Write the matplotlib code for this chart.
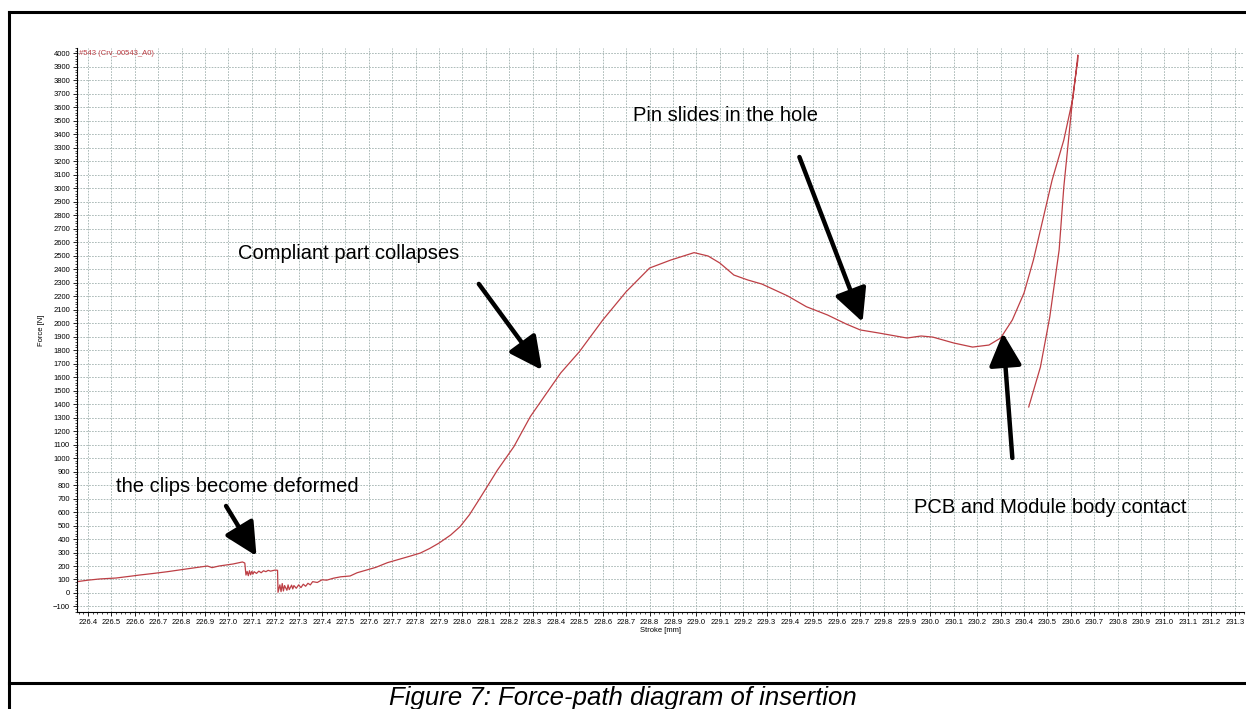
import numpy as np
import matplotlib
matplotlib.use('Agg')
import matplotlib.pyplot as plt
from matplotlib.lines import Line2D
from matplotlib.ticker import MultipleLocator, FormatStrFormatter

plt.rcParams['font.family'] = ['Liberation Sans', 'DejaVu Sans']

# stroke [mm] / force [N] (loading then unloading)
stroke = [226.353, 226.40, 226.45, 226.52, 226.58, 226.62, 226.68, 226.74, 226.82,
          226.91, 226.93, 226.96, 227.02, 227.06, 227.07,
          227.075, 227.08, 227.085, 227.09, 227.095, 227.10, 227.105, 227.11,
          227.12, 227.13, 227.14, 227.15, 227.16, 227.17, 227.18, 227.20, 227.21,
          227.212, 227.22, 227.225, 227.23, 227.235, 227.24, 227.25, 227.255,
          227.26, 227.27, 227.275, 227.28, 227.29, 227.30, 227.31, 227.32, 227.33,
          227.34, 227.35, 227.36, 227.38, 227.40, 227.42, 227.45, 227.48, 227.52,
          227.55, 227.59, 227.63, 227.68, 227.73, 227.78, 227.82, 227.86, 227.90,
          227.95, 227.99, 228.03, 228.07, 228.11, 228.15, 228.22, 228.29, 228.36,
          228.42, 228.50, 228.60, 228.70, 228.80, 228.89, 228.99, 229.05, 229.10,
          229.16, 229.22, 229.28, 229.39, 229.47, 229.56, 229.64, 229.70, 229.78,
          229.90, 229.96, 230.01, 230.10, 230.18, 230.25, 230.30, 230.35, 230.40,
          230.44, 230.48, 230.52, 230.57, 230.61, 230.63,
          230.63, 230.61, 230.57, 230.55, 230.51, 230.47, 230.42]
force = [84, 95, 104, 111, 124, 133, 145, 158, 178,
         200, 188, 200, 215, 230, 222,
         133, 160, 128, 165, 135, 160, 140, 158,
         145, 162, 150, 165, 158, 168, 162, 170, 168,
         5, 60, 10, 70, 15, 55, 20, 60,
         25, 58, 30, 55, 35, 60, 40, 65, 50,
         72, 60, 84, 78, 98, 95, 110, 120, 126,
         150, 170, 190, 225, 250, 275, 296, 330, 370,
         430, 492, 580, 689, 800, 912, 1085, 1307, 1482,
         1631, 1789, 2024, 2234, 2409, 2468, 2523, 2498, 2446,
         2357, 2320, 2290, 2202, 2122, 2061, 1994, 1950, 1927,
         1890, 1905, 1897, 1853, 1823, 1838, 1890, 2024, 2224,
         2468, 2765, 3061, 3358, 3679, 3988,
         3951, 3706, 3010, 2543, 2046, 1675, 1379]

notes = ['the clips become deformed', 'Compliant part collapses',
         'Pin slides in the hole', 'PCB and Module body contact']
note_xy = [(226.52, 793), (227.04, 2513), (228.73, 3536), (229.93, 637)]
arrow_tail = [(226.99, 645), (228.07, 2291), (229.44, 3232), (230.35, 1001)]
arrow_head = [(227.12, 274), (228.34, 1653), (229.71, 2009), (230.31, 1927)]

fig = plt.figure(figsize=(12.46, 7.09), dpi=100)
ax = fig.add_axes([0.0618, 0.1368, 0.9366, 0.7955])

ax.plot(stroke, force, color='#bd3f45', lw=0.9)

ax.set_xlim(226.353, 231.34)
ax.set_ylim(-141, 4040)
ax.xaxis.set_major_locator(MultipleLocator(0.1))
ax.xaxis.set_minor_locator(MultipleLocator(0.02))
ax.xaxis.set_major_formatter(FormatStrFormatter('%.1f'))
ax.yaxis.set_major_locator(MultipleLocator(100))
ax.yaxis.set_minor_locator(MultipleLocator(20))
ax.tick_params(which='major', labelsize=5.5, length=3, width=0.6, pad=2)
ax.tick_params(which='minor', length=1.5, width=0.5)
ax.grid(True, which='major', ls=(0, (2, 1.5)), color='#9fb0ad', lw=0.6)
for s in ['top', 'right']:
    ax.spines[s].set_visible(False)
for s in ['left', 'bottom']:
    ax.spines[s].set_linewidth(0.8)

ax.set_xlabel('Stroke [mm]', fontsize=5.5, labelpad=1)
ax.set_ylabel('Force [N]', fontsize=5.5, labelpad=6)
ax.text(0.002, 0.997, '#543 (Crv_00543_A0)', transform=ax.transAxes,
        color='#bd3f45', fontsize=5.5, va='top', ha='left')

for txt, xy, t, h in zip(notes, note_xy, arrow_tail, arrow_head):
    ax.text(xy[0], xy[1], txt, fontsize=14.5, va='center', ha='left')
    ax.annotate('', xy=h, xytext=t,
                arrowprops=dict(arrowstyle='-|>,head_length=1.0,head_width=0.5',
                                mutation_scale=20, color='black', lw=3.2,
                                shrinkA=0, shrinkB=0))

# outer frame and caption separator
frame = dict(color='black', lw=2.2, transform=fig.transFigure)
fig.add_artist(Line2D([9 / 1246, 9 / 1246], [0, 1 - 12 / 709], **frame))
fig.add_artist(Line2D([9 / 1246, 1], [1 - 12 / 709, 1 - 12 / 709], **frame))
fig.add_artist(Line2D([9 / 1246, 1], [1 - 683 / 709, 1 - 683 / 709], **frame))

fig.text(0.5, 1 - 698 / 709, 'Figure 7: Force-path diagram of insertion',
         fontsize=18.5, style='italic', ha='center', va='center')

fig.savefig('out.png', dpi=100)
